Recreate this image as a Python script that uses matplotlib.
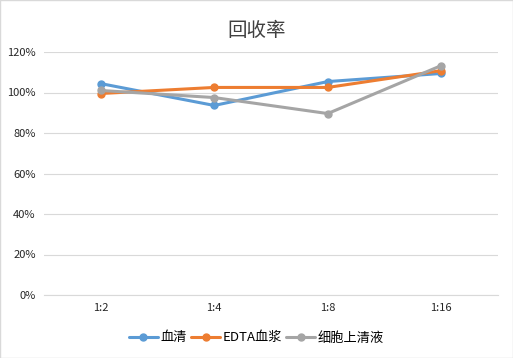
import numpy as np
import matplotlib.pyplot as plt

plt.rcParams['font.family'] = ['Noto Sans CJK SC', 'DejaVu Sans']

categories = ['1:2', '1:4', '1:8', '1:16']
serum = [104.4, 93.6, 105.4, 109.4]
edta_plasma = [99.5, 102.5, 102.5, 110.8]
supernatant = [101.0, 97.5, 89.6, 113.3]

names = ['血清', 'EDTA血浆', '细胞上清液']
colors = ['#5B9BD5', '#ED7D31', '#A5A5A5']


def main():
    fig = plt.figure(figsize=(5.13, 3.58), dpi=100)
    ax = fig.add_axes([44 / 513, 1 - 295 / 358, 454 / 513, 243 / 358])

    x = np.arange(len(categories))
    for vals, name, c in zip([serum, edta_plasma, supernatant], names, colors):
        ax.plot(x, vals, color=c, lw=2.2, marker='o', ms=5, label=name,
                solid_capstyle='round')

    ax.set_xlim(-0.5, len(categories) - 0.5)
    ax.set_ylim(0, 120)
    ax.set_yticks(np.arange(0, 121, 20))
    ax.set_yticklabels([f'{v}%' for v in range(0, 121, 20)])
    ax.set_xticks(x)
    ax.set_xticklabels(categories)
    ax.grid(axis='y', color='#D9D9D9', lw=0.8)
    ax.set_axisbelow(True)
    for s in ['top', 'right', 'left']:
        ax.spines[s].set_visible(False)
    ax.spines['bottom'].set_color('#D9D9D9')
    ax.tick_params(length=0, labelsize=8, colors='#262626', pad=6)

    fig.text(0.5, 1 - 30 / 358, '回收率', ha='center', va='center',
             fontsize=14, color='#404040')
    fig.legend(loc='center', bbox_to_anchor=(0.5, 1 - 338 / 358), ncol=3,
               frameon=False, fontsize=9.5, handlelength=2.2, columnspacing=0.3,
               handletextpad=0.2, labelcolor='black')

    fig.patches.append(plt.Rectangle((0, 0), 1, 1, transform=fig.transFigure,
                                     fill=False, ec='#D9D9D9', lw=1))
    fig.savefig('out.png', dpi=100)


if __name__ == "__main__":
    main()
